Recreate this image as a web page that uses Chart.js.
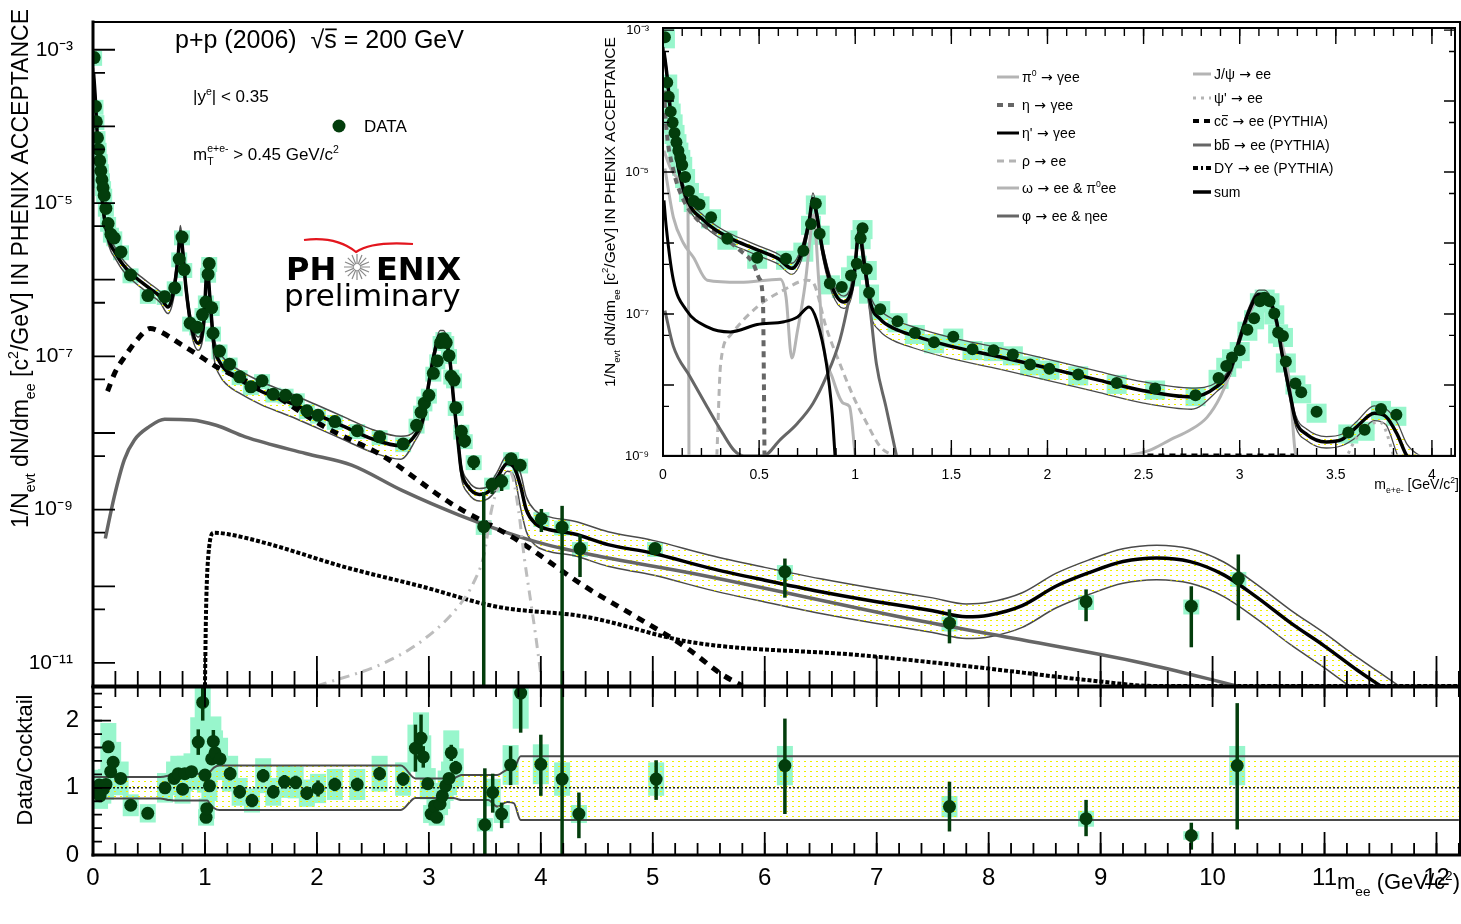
<!DOCTYPE html>
<html>
<head>
<meta charset="utf-8">
<script src="https://cdn.jsdelivr.net/npm/chart.js@4.4.0/dist/chart.umd.min.js"></script>
<style>
  body { margin: 0; background: #fff; width: 1461px; height: 924px; overflow: hidden; position: relative; }
  canvas { position: absolute; }
  #main { left: 0; top: 0; width: 1461px; height: 688px; }
  #ratio { left: 0; top: 686px; width: 1461px; height: 238px; }
  #inset { left: 598px; top: 24px; width: 860px; height: 474px; }
</style>
</head>
<body>
<canvas id="main" width="1461" height="688"></canvas>
<canvas id="ratio" width="1461" height="238"></canvas>
<canvas id="inset" width="860" height="474"></canvas>
<script>
// PHENIX p+p dielectron mass spectrum vs cocktail, with ratio panel and low-mass inset

// ---- data points (GeV/c^2, 1/Nevt dN/dm) ----
const dataX = [0.01, 0.022, 0.03, 0.04, 0.05, 0.06, 0.07, 0.08, 0.09, 0.10, 0.115, 0.135, 0.16, 0.19, 0.25, 0.335, 0.49,
  0.64, 0.73, 0.77, 0.795, 0.815, 0.868, 0.93, 0.978, 1.008, 1.028, 1.038, 1.06, 1.072, 1.13, 1.22, 1.31, 1.41, 1.51,
  1.61, 1.72, 1.82, 1.91, 2.01, 2.16, 2.36, 2.56, 2.77, 2.89, 2.93, 2.96, 3.00, 3.04, 3.075, 3.105, 3.13, 3.155, 3.18,
  3.20, 3.225, 3.24, 3.29, 3.32, 3.40, 3.49, 3.565, 3.65, 3.735, 3.815, 4.005, 4.19, 4.35, 5.02, 6.18, 7.65, 8.87, 9.81, 10.23];
const dataY = [7.9e-4, 1.82e-4, 1.15e-4, 7.1e-5, 5.0e-5, 3.55e-5, 2.63e-5, 2.0e-5, 1.58e-5, 1.26e-5, 8.5e-6, 5.4e-6, 3.9e-6,
  3.5e-6, 2.3e-6, 1.15e-6, 6.2e-7, 6.0e-7, 7.8e-7, 1.86e-6, 3.6e-6, 1.35e-6, 2.7e-7, 2.4e-7, 3.5e-7, 5.1e-7, 1.17e-6,
  1.62e-6, 4.3e-7, 2.0e-7, 1.17e-7, 7.9e-8, 5.4e-8, 4.0e-8, 4.8e-8, 3.2e-8, 3.1e-8, 2.7e-8, 1.95e-8, 1.7e-8, 1.41e-8,
  1.07e-8, 8.9e-9, 7.2e-9, 1.26e-8, 1.86e-8, 2.45e-8, 3.1e-8, 6.0e-8, 8.7e-8, 1.51e-7, 1.7e-7, 1.51e-7, 1.02e-7, 5.5e-8,
  4.9e-8, 2.14e-8, 1.05e-8, 7.9e-9, 4.2e-9, 6.0e-10, 2.14e-9, 2.34e-9, 4.6e-9, 3.8e-9, 7.6e-10, 5.9e-10, 3.1e-10, 3.1e-10,
  1.55e-10, 3.3e-11, 6.3e-11, 5.5e-11, 1.26e-10];
// visible statistical error bars
const errX  = [3.29, 3.32, 3.40, 3.49, 3.565, 3.65, 4.005, 4.19, 4.35, 5.02, 6.18, 7.65, 8.87, 9.81, 10.23];
const errLo = [8.5e-9, 6.4e-9, 3.3e-9, 5e-12, 1.6e-9, 1.75e-9, 5.1e-10, 5e-12, 1.32e-10, 2.8e-10, 7.1e-11, 1.8e-11, 3.5e-11, 1.6e-11, 3.6e-11];
const errHi = [1.25e-8, 9.4e-9, 5.0e-9, 1.7e-9, 2.6e-9, 2.9e-9, 1.02e-9, 1.12e-9, 4.7e-10, 3.5e-10, 2.3e-10, 5.0e-11, 9.1e-11, 1.0e-10, 2.6e-10];

// ---- cocktail sum and its systematic band (ratio to sum) ----
const sumX = [0.005, 0.02, 0.045, 0.07, 0.1, 0.13, 0.16, 0.2, 0.25, 0.3, 0.37, 0.45, 0.5, 0.6, 0.67, 0.72, 0.76, 0.78, 0.80,
  0.83, 0.88, 0.94, 0.99, 1.02, 1.045, 1.08, 1.13, 1.2, 1.3, 1.5, 1.75, 2.0, 2.25, 2.5, 2.75, 2.88, 2.95, 3.0, 3.05, 3.1,
  3.13, 3.19, 3.22, 3.26, 3.29, 3.35, 3.45, 3.53, 3.61, 3.7, 3.76, 3.82, 3.87, 3.95, 4.05, 4.3, 4.6, 5.0, 5.5, 6.0, 6.5,
  7.0, 7.5, 7.8, 8.0, 8.3, 8.6, 8.9, 9.2, 9.5, 9.8, 10.1, 10.4, 10.7, 11.0, 11.3, 11.5, 11.8, 12.2];
const sumY = [5.0e-4, 2.4e-4, 5.0e-5, 1.66e-5, 6.6e-6, 3.8e-6, 2.8e-6, 2.24e-6, 1.7e-6, 1.38e-6, 1.1e-6, 8.9e-7, 7.8e-7,
  6.0e-7, 4.4e-7, 7.1e-7, 2.0e-6, 4.2e-6, 2.5e-6, 7.9e-7, 2.4e-7, 1.48e-7, 2.8e-7, 1.41e-6, 5.6e-7, 1.41e-7, 8.5e-8, 6.3e-8,
  5.0e-8, 3.5e-8, 2.5e-8, 1.74e-8, 1.2e-8, 8.3e-9, 6.8e-9, 9.5e-9, 1.58e-8, 4.5e-8, 1.12e-7, 1.9e-7, 1.9e-7, 8.3e-8, 2.8e-8,
  7.9e-9, 3.2e-9, 2.0e-9, 1.58e-9, 1.7e-9, 2.6e-9, 4.0e-9, 3.6e-9, 2.0e-9, 1.0e-9, 6.6e-10, 5.6e-10, 4.8e-10, 3.5e-10,
  2.7e-10, 1.74e-10, 1.2e-10, 8.5e-11, 6.3e-11, 4.8e-11, 4.0e-11, 4.2e-11, 5.6e-11, 1.0e-10, 1.51e-10, 2.1e-10, 2.34e-10,
  2.1e-10, 1.41e-10, 7.1e-11, 3.3e-11, 1.66e-11, 7.9e-12, 5.0e-12, 2.5e-12, 1.0e-12];
const sumBandHi = [1.16, 1.16, 1.16, 1.16, 1.16, 1.16, 1.16, 1.16, 1.16, 1.16, 1.16, 1.16, 1.16, 1.16, 1.18, 1.21,
  1.21, 1.21, 1.21, 1.21, 1.21, 1.21, 1.21, 1.21, 1.24, 1.30, 1.33, 1.33, 1.33, 1.33, 1.33, 1.33, 1.33, 1.33, 1.33,
  1.14, 1.14, 1.14, 1.14, 1.14, 1.14, 1.14, 1.14, 1.17, 1.19, 1.19, 1.19, 1.19, 1.19, 1.27, 1.29,
  1.47, 1.47, 1.47, 1.47, 1.47, 1.47, 1.47, 1.47, 1.47, 1.47, 1.47, 1.47, 1.47, 1.47, 1.47, 1.47, 1.47, 1.47, 1.47,
  1.47, 1.47, 1.47, 1.47, 1.47, 1.47, 1.47, 1.47, 1.47];
const sumBandLo = [0.84, 0.84, 0.84, 0.84, 0.84, 0.84, 0.84, 0.84, 0.84, 0.84, 0.84, 0.84, 0.84, 0.84, 0.82, 0.81,
  0.81, 0.81, 0.81, 0.81, 0.81, 0.81, 0.81, 0.81, 0.76, 0.70, 0.67, 0.67, 0.67, 0.67, 0.67, 0.67, 0.67, 0.67, 0.67,
  0.85, 0.85, 0.85, 0.85, 0.85, 0.85, 0.85, 0.85, 0.83, 0.82, 0.82, 0.82, 0.82, 0.72, 0.79, 0.77,
  0.52, 0.52, 0.52, 0.52, 0.52, 0.52, 0.52, 0.52, 0.52, 0.52, 0.52, 0.52, 0.52, 0.52, 0.52, 0.52, 0.52, 0.52, 0.52,
  0.52, 0.52, 0.52, 0.52, 0.52, 0.52, 0.52, 0.52, 0.52];

// ---- cocktail components, main panel ----
const ccX = [0.13, 0.2, 0.29, 0.39, 0.51, 0.6, 0.78, 0.99, 1.11, 1.56, 2.07, 2.59, 3.2, 3.79, 4.4, 4.85, 5.3, 5.61, 5.8];
const ccY = [3.5e-8, 6.3e-8, 1.02e-7, 1.62e-7, 2.3e-7, 2.1e-7, 1.45e-7, 9.3e-8, 7.2e-8, 3.5e-8, 1.2e-8, 5.0e-9, 1.2e-9,
  4.0e-10, 9.8e-11, 4.0e-11, 1.58e-11, 7.2e-12, 5.0e-12];
const bbX = [0.11, 0.19, 0.28, 0.37, 0.5, 0.64, 0.88, 1.1, 1.36, 1.9, 2.31, 2.76, 3.27, 3.96, 4.5, 5.35, 7.36, 8.22, 9.37, 10.22];
const bbY = [4.2e-10, 1.48e-9, 4.5e-9, 8.1e-9, 1.2e-8, 1.51e-8, 1.48e-8, 1.26e-8, 8.9e-9, 5.4e-9, 3.8e-9, 1.78e-9, 8.5e-10,
  3.8e-10, 2.5e-10, 1.48e-10, 3.6e-11, 2.1e-11, 1.0e-11, 5.0e-12];
const dyX = [1.0, 1.01, 1.03, 1.08, 1.2, 1.56, 2.25, 2.93, 3.61, 4.4, 5.35, 6.86, 7.86, 8.87, 9.5, 12.2];
const dyY = [5e-12, 5e-11, 2.5e-10, 5.0e-10, 4.8e-10, 3.6e-10, 1.78e-10, 1.0e-10, 5.4e-11, 4.0e-11, 1.86e-11, 1.26e-11,
  8.9e-12, 6.0e-12, 5e-12, 5e-12];
const psi2X = [2.0, 2.6, 2.95, 3.27, 3.4, 3.49, 3.56, 3.62, 3.68, 3.73, 3.8, 3.85, 3.9, 3.95, 4.0];
const psi2Y = [5e-12, 1e-11, 2e-11, 5.6e-11, 1.12e-10, 2.5e-10, 1.0e-9, 2.0e-9, 2.8e-9, 3.0e-9, 1.0e-9, 2.5e-10, 7.9e-11, 2.5e-11, 7.1e-12];

// ---- inset components ----
const pi0X = [0.005, 0.04, 0.08, 0.12, 0.13, 0.133, 0.135];
const pi0Y = [2.0e-5, 1.12e-5, 7.9e-6, 5.6e-6, 3.2e-6, 1e-7, 1e-9];
const etaX = [0.003, 0.015, 0.054, 0.106, 0.19, 0.31, 0.40, 0.47, 0.50, 0.52, 0.525, 0.528];
const etaY = [2.0e-4, 5.0e-5, 1.07e-5, 4.1e-6, 2.0e-6, 1.23e-6, 7.9e-7, 5.1e-7, 3.2e-7, 1.5e-7, 1e-8, 1e-9];
const etapX = [0.005, 0.016, 0.054, 0.12, 0.23, 0.35, 0.49, 0.63, 0.70, 0.76, 0.80, 0.85, 0.88, 0.895];
const etapY = [4.0e-6, 1.78e-6, 3.0e-7, 1.15e-7, 6.6e-8, 5.6e-8, 7.1e-8, 7.8e-8, 9.1e-8, 1.26e-7, 8.1e-8, 2.0e-8, 4.0e-9, 1e-9];
const rhoX = [0.28, 0.30, 0.35, 0.49, 0.63, 0.75, 0.78, 0.85, 0.92, 0.99, 1.06, 1.13, 1.2];
const rhoY = [1e-9, 2.0e-8, 5.0e-8, 1.26e-7, 2.2e-7, 3.0e-7, 2.8e-7, 6.3e-8, 2.0e-8, 6.9e-9, 2.9e-9, 1.35e-9, 1e-9];
const omegaX = [0.01, 0.054, 0.106, 0.158, 0.23, 0.40, 0.61, 0.64, 0.67, 0.70, 0.74, 0.77, 0.783, 0.81, 0.83, 0.886, 0.94, 0.97, 1.0];
const omegaY = [1.12e-5, 2.3e-6, 1.0e-6, 6.3e-7, 3.0e-7, 2.8e-7, 3.1e-7, 1.74e-7, 2.4e-8, 5.9e-8, 2.7e-7, 1.51e-6, 2.5e-6,
  3.0e-7, 4.8e-8, 1.17e-8, 5.5e-9, 5.0e-9, 1e-9];
const phiX = [0.01, 0.054, 0.14, 0.23, 0.31, 0.37, 0.42, 0.52, 0.61, 0.70, 0.78, 0.85, 0.92, 0.97, 1.0, 1.02, 1.05, 1.08, 1.11, 1.16, 1.215];
const phiY = [1.12e-7, 3.5e-8, 1.32e-8, 4.9e-9, 2.1e-9, 1.2e-9, 1e-9, 1e-9, 1.7e-9, 2.9e-9, 5.5e-9, 1.32e-8, 4.3e-8,
  1.74e-7, 5.1e-7, 1.51e-6, 5.1e-7, 1.02e-7, 2.0e-8, 4.9e-9, 1e-9];
const jpsiX = [2.41, 2.53, 2.64, 2.74, 2.83, 2.90, 2.95, 2.99, 3.06, 3.10, 3.16, 3.21, 3.26, 3.29, 3.30];
const jpsiY = [1e-9, 1.2e-9, 1.7e-9, 2.3e-9, 3.5e-9, 6.9e-9, 1.48e-8, 3.9e-8, 1.15e-7, 1.74e-7, 1.41e-7, 4.8e-8, 1.05e-8, 1.1e-9, 1e-9];
const floorX = [0, 4.12];
const floorY = [1e-9, 1e-9];
const ccInsetX = [2.52, 3.30];
const ccInsetY = [1e-9, 1e-9];

// ---- ratio panel ----
const ratioX = [0.003, 0.033, 0.056, 0.063, 0.092, 0.116, 0.137, 0.158, 0.18, 0.247, 0.337, 0.489, 0.643, 0.724, 0.762,
  0.80, 0.82, 0.88, 0.94, 0.98, 1.00, 1.01, 1.016, 1.04, 1.06, 1.075, 1.09, 1.135, 1.225, 1.31, 1.42, 1.52, 1.61, 1.71,
  1.81, 1.91, 2.01, 2.16, 2.36, 2.56, 2.77, 2.88, 2.93, 2.95, 2.99, 3.02, 3.05, 3.07, 3.10, 3.12, 3.15, 3.18, 3.20, 3.24,
  3.50, 3.57, 3.65, 3.73, 3.82, 4.00, 4.19, 4.34, 5.03, 6.18, 7.65, 8.87, 9.81, 10.22];
const ratioY = [0.995, 0.93, 1.04, 0.88, 0.98, 1.05, 1.61, 1.24, 1.38, 1.14, 0.74, 0.62, 1.00, 1.14, 1.21, 0.98, 1.21,
  1.24, 1.68, 2.27, 1.19, 0.56, 0.69, 1.03, 1.43, 1.69, 1.52, 1.43, 1.21, 0.94, 0.81, 1.18, 0.94, 1.09, 1.08, 0.92, 0.99,
  1.05, 1.05, 1.21, 1.13, 1.59, 1.74, 1.46, 1.06, 0.61, 0.73, 0.56, 0.76, 0.88, 1.03, 1.14, 1.52, 1.30, 0.45, 0.93, 0.61,
  1.34, 2.41, 1.35, 1.13, 0.61, 1.13, 1.33, 0.72, 0.54, 0.29, 1.33];
const rErrX  = [0.94, 0.98, 1.075, 1.225, 1.31, 1.42, 1.52, 1.61, 1.71, 1.81, 1.91, 2.01, 2.16, 2.36, 2.56, 2.77, 2.88,
  2.93, 2.95, 3.20, 3.24, 3.50, 3.57, 3.65, 3.73, 3.82, 4.00, 4.19, 4.34, 5.03, 6.18, 7.65, 8.87, 9.81, 10.22];
const rErrLo = [1.49, 2.0, 1.52, 1.11, 0.84, 0.71, 1.08, 0.84, 0.99, 0.98, 0.82, 0.87, 0.95, 0.95, 1.11, 1.03, 1.24,
  1.39, 1.30, 1.40, 1.20, 0, 0.63, 0.40, 1.04, 1.82, 0.88, 0, 0.25, 0.82, 0.61, 0.35, 0.28, 0.08, 0.38];
const rErrHi = [1.87, 2.55, 1.86, 1.31, 1.04, 0.91, 1.28, 1.04, 1.19, 1.18, 1.02, 1.11, 1.15, 1.15, 1.31, 1.23, 1.94,
  2.09, 1.62, 1.64, 1.40, 1.29, 1.21, 0.78, 1.62, 2.6, 1.79, 2.6, 0.93, 1.41, 2.03, 1.09, 0.82, 0.48, 2.26];

// ---- styling ----
const FONT = "'Liberation Sans', Arial, Helvetica, sans-serif";
const LOGO = "'DejaVu Sans', Verdana, sans-serif";
const GREEN = '#033d0c';
const BOX = '#98f6cc';
const LGREY = '#b4b4b4';
const DGREY = '#666666';

const pts = (xs, ys) => xs.map((x, i) => ({ x, y: ys[i] }));
const steps = (a, b, d) => { const r = []; for (let v = a; v <= b + 1e-9; v += d) r.push(+v.toFixed(3)); return r; };
const SUP = { '-': '\u207B', '0': '\u2070', '1': '\u00B9', '2': '\u00B2', '3': '\u00B3', '4': '\u2074', '5': '\u2075',
  '6': '\u2076', '7': '\u2077', '8': '\u2078', '9': '\u2079' };
const pow10 = v => '10' + String(Math.round(Math.log10(v))).split('').map(c => SUP[c]).join('');
// fixed axis box sizes, no extra label padding
const fixW = w => s => { s.width = w; s.paddingTop = 0; s.paddingBottom = 0; s.paddingLeft = 0; s.paddingRight = 0; };
const fixH = h => s => { s.height = h; s.paddingTop = 0; s.paddingBottom = 0; s.paddingLeft = 0; s.paddingRight = 0; };

function dots(canvas) {
  const c = document.createElement('canvas');
  c.width = 6; c.height = 5;
  const g = c.getContext('2d');
  g.fillStyle = '#f0f000';
  g.fillRect(0, 0, 2, 1);
  return canvas.getContext('2d').createPattern(c, 'repeat');
}

function curve(xs, ys, color, width, dash, order, extra) {
  return Object.assign({
    data: pts(xs, ys), borderColor: color, borderWidth: width, borderDash: dash,
    pointRadius: 0, fill: false, cubicInterpolationMode: 'monotone', order
  }, extra || {});
}

// text with sub/superscripts, overbars and symbol-font pieces
function rich(ctx, parts, x, y, size, font, align, weight) {
  const fs = m => (m === 'sub' || m === 'sup') ? size * 0.62 : size;
  const setF = m => { ctx.font = (weight || '') + ' ' + fs(m) + 'px ' + (m === 'sym' ? LOGO : font); };
  let w = 0;
  parts.forEach(([t, m]) => { setF(m); w += ctx.measureText(t).width; });
  let cx = align === 'right' ? x - w : align === 'center' ? x - w / 2 : x;
  parts.forEach(([t, m]) => {
    setF(m);
    const dy = m === 'sub' ? size * 0.3 : m === 'sup' ? -size * 0.42 : 0;
    ctx.fillText(t, cx, y + dy);
    const tw = ctx.measureText(t).width;
    if (m === 'bar') ctx.fillRect(cx + 1, y - size * 0.78, tw - 1, Math.max(1, size * 0.07));
    cx += tw;
  });
}

// inward ROOT-style ticks and frame
function makeAxes(spec) {
  return {
    id: 'rootAxes',
    afterDatasetsDraw(chart) {
      const { ctx, chartArea: a } = chart;
      ctx.save();
      ctx.strokeStyle = '#000';
      spec.ticks.forEach(t => {
        const sc = chart.scales[t.axis];
        ctx.lineWidth = t.lw || 1.8;
        ctx.beginPath();
        t.values.forEach(v => {
          if (v < sc.min || v > sc.max) return;
          const p = sc.getPixelForValue(v);
          if (t.side === 'bottom') { ctx.moveTo(p, a.bottom); ctx.lineTo(p, a.bottom - t.len); }
          if (t.side === 'top') { ctx.moveTo(p, a.top); ctx.lineTo(p, a.top + t.len); }
          if (t.side === 'left') { ctx.moveTo(a.left, p); ctx.lineTo(a.left + t.len, p); }
          if (t.side === 'right') { ctx.moveTo(a.right, p); ctx.lineTo(a.right - t.len, p); }
        });
        ctx.stroke();
      });
      const f = spec.frame;
      const seg = (w, x1, y1, x2, y2) => {
        if (!w) return;
        ctx.lineWidth = w; ctx.beginPath(); ctx.moveTo(x1, y1); ctx.lineTo(x2, y2); ctx.stroke();
      };
      ctx.lineCap = 'square';
      seg(f.left, a.left, a.top, a.left, a.bottom);
      seg(f.bottom, a.left, a.bottom, a.right, a.bottom);
      seg(f.top, a.left, a.top, a.right, a.top);
      seg(f.right, a.right, a.top, a.right, a.bottom);
      ctx.restore();
    }
  };
}

// systematic boxes (behind everything) and error bars (under the markers)
function makeDecor(o) {
  return {
    id: 'decor',
    beforeDatasetsDraw(chart) {
      const { ctx, chartArea: a, scales: { x, y } } = chart;
      ctx.save();
      ctx.beginPath(); ctx.rect(a.left, a.top, a.width, a.height); ctx.clip();
      ctx.fillStyle = BOX;
      o.xs.forEach((v, i) => {
        const px = x.getPixelForValue(v);
        const t = y.getPixelForValue(o.ys[i] * (1 + o.frac));
        const b = y.getPixelForValue(o.ys[i] * (1 - o.frac));
        ctx.fillRect(px - o.halfW, t, 2 * o.halfW, b - t);
      });
      ctx.restore();
    },
    beforeDatasetDraw(chart, args) {
      if (args.index !== 0 || !o.ex) return;
      const { ctx, chartArea: a, scales: { x, y } } = chart;
      ctx.save();
      ctx.beginPath(); ctx.rect(a.left, a.top, a.width, a.height); ctx.clip();
      ctx.strokeStyle = GREEN; ctx.lineWidth = o.errW;
      o.ex.forEach((v, i) => {
        const px = x.getPixelForValue(v);
        ctx.beginPath();
        ctx.moveTo(px, y.getPixelForValue(o.elo[i]));
        ctx.lineTo(px, y.getPixelForValue(o.ehi[i]));
        ctx.stroke();
      });
      ctx.restore();
    }
  };
}

const common = {
  responsive: false, animation: false, events: [],
  plugins: { legend: { display: false }, tooltip: { enabled: false } }
};

// ================= main panel =================
const mainCanvas = document.getElementById('main');
const mainPat = dots(mainCanvas);
const annotMain = {
  id: 'annotMain',
  afterDraw(chart) {
    const ctx = chart.ctx;
    ctx.save();
    ctx.fillStyle = '#000';
    rich(ctx, [['p+p (2006)  \u221A', ''], ['s', 'bar'], [' = 200 GeV', '']], 175, 48, 25, FONT, 'left');
    rich(ctx, [['|y', ''], ['e', 'sup'], ['| < 0.35', '']], 193, 102, 17, FONT, 'left');
    ctx.fillStyle = GREEN;
    ctx.beginPath(); ctx.arc(339, 126, 6.5, 0, Math.PI * 2); ctx.fill();
    ctx.fillStyle = '#000';
    rich(ctx, [['DATA', '']], 364, 132, 17, FONT, 'left');
    // m_T^{e+e-} > 0.45 GeV/c^2
    ctx.font = '17px ' + FONT;
    ctx.fillText('m', 193, 160);
    const mw = ctx.measureText('m').width;
    ctx.font = '10.5px ' + FONT;
    ctx.fillText('T', 193 + mw, 165);
    ctx.fillText('e+e-', 193 + mw, 152);
    const ew = ctx.measureText('e+e-').width;
    rich(ctx, [[' > 0.45 GeV/c', ''], ['2', 'sup']], 193 + mw + ew, 160, 17, FONT, 'left');
    // PHENIX preliminary logo
    ctx.font = 'bold 32px ' + LOGO;
    ctx.fillText('PH', 286, 280);
    ctx.fillText('ENIX', 376, 280);
    ctx.strokeStyle = '#8a8a8a'; ctx.lineWidth = 1.2;
    ctx.beginPath();
    for (let k = 0; k < 16; k++) {
      const an = k * Math.PI / 8;
      ctx.moveTo(357 + 3 * Math.cos(an), 267 + 3 * Math.sin(an));
      ctx.lineTo(357 + 13 * Math.cos(an), 267 + 13 * Math.sin(an));
    }
    ctx.stroke();
    ctx.strokeStyle = '#e3161e'; ctx.lineWidth = 2.2;
    ctx.beginPath(); ctx.moveTo(304, 240); ctx.quadraticCurveTo(336, 236, 356, 252);
    ctx.quadraticCurveTo(372, 241, 413, 244); ctx.stroke();
    ctx.font = '31px ' + LOGO;
    ctx.fillText('preliminary', 284, 306);
    // y title
    ctx.translate(28, 9);
    ctx.rotate(-Math.PI / 2);
    rich(ctx, [['1/N', ''], ['evt', 'sub'], [' dN/dm', ''], ['ee', 'sub'], [' [c', ''], ['2', 'sup'],
      ['/GeV] IN PHENIX ACCEPTANCE', '']], 0, 0, 23, FONT, 'right');
    ctx.restore();
  }
};

new Chart(mainCanvas, {
  type: 'line',
  data: {
    datasets: [
      { data: pts(dataX, dataY), showLine: false, pointRadius: 6.5, pointBackgroundColor: GREEN, pointBorderWidth: 0, order: 0 },
      curve(sumX, sumY, '#000', 3.5, [], 1),
      curve(psi2X, psi2Y, '#bdbdbd', 3, [10, 6, 2, 6], 2),
      curve(ccX, ccY, '#000', 5, [8, 7], 3),
      curve(bbX, bbY, DGREY, 3.5, [], 4),
      curve(dyX, dyY, '#000', 4, [4, 2], 5),
      curve(sumX, sumY.map((v, i) => v * sumBandHi[i]), '#4a4a4a', 1.5, [], 6, { fill: '+1', backgroundColor: mainPat }),
      curve(sumX, sumY.map((v, i) => v * sumBandLo[i]), '#4a4a4a', 1.5, [], 7)
    ]
  },
  options: Object.assign({}, common, {
    layout: { autoPadding: false, padding: { top: 22, right: 1, bottom: 2, left: 0 } },
    scales: {
      x: { type: 'linear', min: 0, max: 12.21, display: false },
      y: {
        type: 'logarithmic', min: 5e-12, max: 2.3e-3,
        grid: { display: false }, border: { display: false },
        afterFit: fixW(93),
        afterBuildTicks: s => { s.ticks = [1e-3, 1e-5, 1e-7, 1e-9, 1e-11].map(v => ({ value: v })); },
        ticks: { callback: v => pow10(v), color: '#000', font: { size: 21, family: FONT }, padding: 12 }
      }
    }
  }),
  plugins: [
    makeDecor({ xs: dataX, ys: dataY, halfW: 8, frac: 0.22, ex: errX, elo: errLo, ehi: errHi, errW: 3.5 }),
    makeAxes({
      ticks: [
        { axis: 'y', side: 'left', values: [1e-3, 1e-4, 1e-5, 1e-6, 1e-7, 1e-8, 1e-9, 1e-10, 1e-11], len: 22 },
        { axis: 'y', side: 'left', values: [5e-4, 5e-5, 5e-6, 5e-7, 5e-8, 5e-9, 5e-10, 5e-11], len: 12 },
        { axis: 'x', side: 'bottom', values: steps(0, 12, 1), len: 30 },
        { axis: 'x', side: 'bottom', values: steps(0, 12.2, 0.2), len: 15 }
      ],
      frame: { left: 3, bottom: 3, top: 2, right: 2 }
    }),
    annotMain
  ]
});

// ================= ratio panel =================
const ratioCanvas = document.getElementById('ratio');
const ratioPat = dots(ratioCanvas);
const annotRatio = {
  id: 'annotRatio',
  afterDraw(chart) {
    const ctx = chart.ctx;
    ctx.save();
    ctx.fillStyle = '#000';
    rich(ctx, [['m', ''], ['ee', 'sub'], [' (GeV/c', ''], ['2', 'sup'], [')', '']], 1460, 203, 22, FONT, 'right');
    ctx.translate(32, 74);
    ctx.rotate(-Math.PI / 2);
    rich(ctx, [['Data/Cocktail', '']], 0, 0, 22, FONT, 'center');
    ctx.restore();
  }
};

new Chart(ratioCanvas, {
  type: 'line',
  data: {
    datasets: [
      { data: pts(ratioX, ratioY), showLine: false, pointRadius: 6.5, pointBackgroundColor: GREEN, pointBorderWidth: 0, order: 0 },
      { data: [{ x: 0, y: 1 }, { x: 12.21, y: 1 }], borderColor: '#000', borderWidth: 1.3, borderDash: [2, 2], pointRadius: 0, order: 3 },
      curve(sumX, sumBandHi, '#4a4a4a', 2, [], 5, { fill: '+1', backgroundColor: ratioPat }),
      curve(sumX, sumBandLo, '#4a4a4a', 2, [], 6)
    ]
  },
  options: Object.assign({}, common, {
    layout: { autoPadding: false, padding: { top: 1, right: 1, bottom: 0, left: 0 } },
    scales: {
      x: {
        type: 'linear', min: 0, max: 12.21,
        grid: { display: false }, border: { display: false },
        afterFit: fixH(69),
        afterBuildTicks: s => { s.ticks = steps(0, 12, 1).map(v => ({ value: v })); },
        ticks: { color: '#000', font: { size: 24, family: FONT }, padding: 1, maxRotation: 0, autoSkip: false }
      },
      y: {
        type: 'linear', min: 0, max: 2.5,
        grid: { display: false }, border: { display: false },
        afterFit: fixW(93),
        afterBuildTicks: s => { s.ticks = [0, 1, 2].map(v => ({ value: v })); },
        ticks: { color: '#000', font: { size: 24, family: FONT }, padding: 6 }
      }
    }
  }),
  plugins: [
    makeDecor({ xs: ratioX, ys: ratioY, halfW: 8, frac: 0.22, ex: rErrX, elo: rErrLo, ehi: rErrHi, errW: 3.5 }),
    makeAxes({
      ticks: [
        { axis: 'y', side: 'left', values: [0, 1, 2], len: 18 },
        { axis: 'y', side: 'left', values: steps(0, 2.4, 0.2), len: 9 },
        { axis: 'x', side: 'bottom', values: steps(0, 12, 1), len: 23 },
        { axis: 'x', side: 'bottom', values: steps(0, 12.2, 0.2), len: 12 },
        { axis: 'x', side: 'top', values: steps(0, 12, 1), len: 20 },
        { axis: 'x', side: 'top', values: steps(0, 12.2, 0.2), len: 10 }
      ],
      frame: { left: 3, bottom: 3, top: 3, right: 2 }
    }),
    annotRatio
  ]
});

// ================= inset =================
const insetCanvas = document.getElementById('inset');
const insetPat = dots(insetCanvas);
const ST = {
  pi0:   { color: LGREY, width: 3, dash: [] },
  eta:   { color: DGREY, width: 4, dash: [6, 5] },
  etap:  { color: '#000', width: 3, dash: [] },
  rho:   { color: LGREY, width: 3, dash: [7, 5] },
  omega: { color: LGREY, width: 3, dash: [] },
  phi:   { color: DGREY, width: 3, dash: [] },
  jpsi:  { color: LGREY, width: 3, dash: [] },
  psi2:  { color: LGREY, width: 3, dash: [3, 5] },
  cc:    { color: '#000', width: 5, dash: [6, 5] },
  bb:    { color: DGREY, width: 3, dash: [] },
  dy:    { color: '#000', width: 4, dash: [5, 3, 2, 3] },
  sum:   { color: '#000', width: 3.5, dash: [] }
};
const sCurve = (xs, ys, st, order) => curve(xs, ys, st.color, st.width, st.dash, order);

const AR = [' \u2192 ', 'sym'];
const legendLeft = [
  [ST.pi0, [['\u03C0', ''], ['0', 'sup'], AR, ['\u03B3ee', '']], 77],
  [ST.eta, [['\u03B7', ''], AR, ['\u03B3ee', '']], 105],
  [ST.etap, [["\u03B7'", ''], AR, ['\u03B3ee', '']], 133],
  [ST.rho, [['\u03C1', ''], AR, ['ee', '']], 161],
  [ST.omega, [['\u03C9', ''], AR, ['ee & \u03C0', ''], ['0', 'sup'], ['ee', '']], 188],
  [ST.phi, [['\u03C6', ''], AR, ['ee & \u03B7ee', '']], 216]
];
const legendRight = [
  [ST.jpsi, [['J/\u03C8', ''], AR, ['ee', '']], 74],
  [ST.psi2, [["\u03C8'", ''], AR, ['ee', '']], 98],
  [ST.cc, [['c', ''], ['c', 'bar'], AR, ['ee (PYTHIA)', '']], 121],
  [ST.bb, [['b', ''], ['b', 'bar'], AR, ['ee (PYTHIA)', '']], 145],
  [ST.dy, [['DY', ''], AR, ['ee (PYTHIA)', '']], 168],
  [ST.sum, [['sum', '']], 192]
];

const insetDecor = {
  id: 'insetDecor',
  beforeDraw(chart) {
    const ctx = chart.ctx;
    ctx.save(); ctx.fillStyle = '#fff'; ctx.fillRect(0, 0, chart.width, chart.height); ctx.restore();
  },
  afterDraw(chart) {
    const ctx = chart.ctx;
    ctx.save();
    ctx.translate(-598, -24);
    ctx.fillStyle = '#000';
    const entry = (st, parts, y, x0, x1, tx) => {
      ctx.strokeStyle = st.color; ctx.lineWidth = Math.min(st.width, 4); ctx.setLineDash(st.dash);
      ctx.beginPath(); ctx.moveTo(x0, y); ctx.lineTo(x1, y); ctx.stroke();
      ctx.setLineDash([]);
      rich(ctx, parts, tx, y + 5, 14, FONT, 'left');
    };
    legendLeft.forEach(([st, parts, y]) => entry(st, parts, y, 997, 1019, 1022));
    legendRight.forEach(([st, parts, y]) => entry(st, parts, y, 1193, 1211, 1214));
    rich(ctx, [['m', ''], ['e+e-', 'sub'], [' [GeV/c', ''], ['2', 'sup'], [']', '']], 1459, 489, 14, FONT, 'right');
    ctx.translate(615, 212);
    ctx.rotate(-Math.PI / 2);
    rich(ctx, [['1/N', ''], ['evt', 'sub'], [' dN/dm', ''], ['ee', 'sub'], [' [c', ''], ['2', 'sup'],
      ['/GeV] IN PHENIX ACCEPTANCE', '']], 0, 0, 15.5, FONT, 'center');
    ctx.restore();
  }
};

new Chart(insetCanvas, {
  type: 'line',
  data: {
    datasets: [
      { data: pts(dataX, dataY), showLine: false, pointRadius: 6, pointBackgroundColor: GREEN, pointBorderWidth: 0, order: 0 },
      sCurve(sumX, sumY, ST.sum, 1),
      sCurve(etapX, etapY, ST.etap, 5),
      sCurve(phiX, phiY, ST.phi, 6),
      sCurve(etaX, etaY, ST.eta, 7),
      sCurve(omegaX, omegaY, ST.omega, 8),
      sCurve(rhoX, rhoY, ST.rho, 9),
      sCurve(pi0X, pi0Y, ST.pi0, 10),
      sCurve(jpsiX, jpsiY, ST.jpsi, 11),
      sCurve(psi2X, psi2Y, ST.psi2, 12),
      curve(ccInsetX, ccInsetY, '#000', 5, [6, 5], 13),
      curve(floorX, floorY, LGREY, 3, [], 14),
      curve(sumX, sumY.map((v, i) => v * sumBandHi[i]), '#4a4a4a', 1.3, [], 20, { fill: '+1', backgroundColor: insetPat }),
      curve(sumX, sumY.map((v, i) => v * sumBandLo[i]), '#4a4a4a', 1.3, [], 21)
    ]
  },
  options: Object.assign({}, common, {
    layout: { autoPadding: false, padding: { top: 4, right: 3, bottom: 0, left: 0 } },
    scales: {
      x: {
        type: 'linear', min: 0, max: 4.12,
        grid: { display: false }, border: { display: false },
        afterFit: fixH(42),
        afterBuildTicks: s => { s.ticks = steps(0, 4, 0.5).map(v => ({ value: v })); },
        ticks: { callback: v => String(v), color: '#000', font: { size: 14, family: FONT }, padding: 3, maxRotation: 0, autoSkip: false }
      },
      y: {
        type: 'logarithmic', min: 1e-9, max: 1.07e-3,
        grid: { display: false }, border: { display: false },
        afterFit: fixW(65),
        afterBuildTicks: s => { s.ticks = [1e-3, 1e-5, 1e-7, 1e-9].map(v => ({ value: v })); },
        ticks: { callback: v => pow10(v), color: '#000', font: { size: 13, family: FONT }, padding: 6 }
      }
    }
  }),
  plugins: [
    insetDecor,
    makeDecor({ xs: dataX, ys: dataY, halfW: 10, frac: 0.3 }),
    makeAxes({
      ticks: [
        { axis: 'x', side: 'bottom', values: steps(0, 4, 0.5), len: 16, lw: 1.4 },
        { axis: 'x', side: 'bottom', values: steps(0, 4.1, 0.1), len: 8, lw: 1.4 },
        { axis: 'x', side: 'top', values: steps(0, 4, 0.5), len: 16, lw: 1.4 },
        { axis: 'x', side: 'top', values: steps(0, 4.1, 0.1), len: 8, lw: 1.4 },
        { axis: 'y', side: 'left', values: [1e-3, 1e-4, 1e-5, 1e-6, 1e-7, 1e-8, 1e-9], len: 11, lw: 1.4 },
        { axis: 'y', side: 'left', values: [5e-4, 5e-5, 5e-6, 5e-7, 5e-8, 5e-9], len: 6, lw: 1.4 },
        { axis: 'y', side: 'right', values: [1e-3, 1e-4, 1e-5, 1e-6, 1e-7, 1e-8, 1e-9], len: 11, lw: 1.4 },
        { axis: 'y', side: 'right', values: [5e-4, 5e-5, 5e-6, 5e-7, 5e-8, 5e-9], len: 6, lw: 1.4 }
      ],
      frame: { left: 2, bottom: 2, top: 2, right: 2 }
    })
  ]
});
</script>
</body>
</html>
